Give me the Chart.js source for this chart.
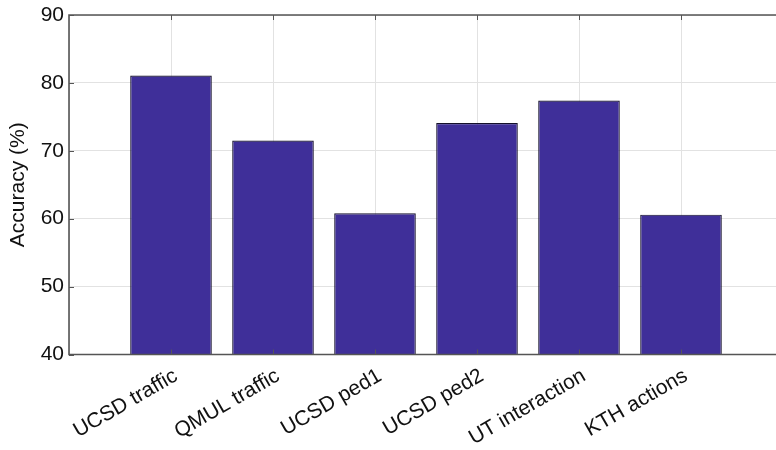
<!DOCTYPE html>
<html>
<head>
<meta charset="utf-8">
<script src="https://cdn.jsdelivr.net/npm/chart.js@4/dist/chart.umd.min.js"></script>
<style>
  html, body { margin: 0; padding: 0; background: #fff; }
  #wrap { width: 776px; height: 450px; overflow: hidden; position: relative; }
  canvas { display: block; }
</style>
</head>
<body>
<div id="wrap"><canvas id="c" width="800" height="450"></canvas></div>
<script>
// Recognition accuracy per dataset
const categories = ['UCSD traffic', 'QMUL traffic', 'UCSD ped1', 'UCSD ped2', 'UT interaction', 'KTH actions'];
const accuracy = [81.1, 71.5, 60.8, 74.1, 77.4, 60.6];
const yTicks = [40, 50, 60, 70, 80, 90];

// The x axis runs from 0 to 7 with the datasets at 1..6 (empty slots at both ends)
const labels = [''].concat(categories, ['']);
const values = [null].concat(accuracy, [null]);

const AXIS = '#555555';
const FONT = '"Liberation Sans", Arial, Helvetica, sans-serif';

// Box around the axes plus inward-pointing tick marks, drawn over the bars
const boxTicks = {
  id: 'boxTicks',
  afterDatasetsDraw(chart) {
    const { ctx, chartArea: a, scales: { x, y } } = chart;
    const len = 5;
    ctx.save();
    ctx.strokeStyle = AXIS;
    ctx.lineWidth = 1.6;
    ctx.beginPath();
    ctx.rect(a.left, a.top, a.right - a.left, a.bottom - a.top);
    ctx.stroke();
    ctx.lineWidth = 1;
    ctx.beginPath();
    for (let i = 1; i <= categories.length; i++) {
      const px = Math.round(x.getPixelForValue(i)) + 0.5;
      ctx.moveTo(px, a.bottom); ctx.lineTo(px, a.bottom - len);
      ctx.moveTo(px, a.top); ctx.lineTo(px, a.top + len);
    }
    yTicks.forEach(v => {
      const py = Math.round(y.getPixelForValue(v)) + 0.5;
      ctx.moveTo(a.left, py); ctx.lineTo(a.left + len, py);
      ctx.moveTo(a.right, py); ctx.lineTo(a.right - len, py);
    });
    ctx.stroke();
    ctx.restore();
  }
};

new Chart(document.getElementById('c'), {
  type: 'bar',
  data: {
    labels: labels,
    datasets: [{
      data: values,
      backgroundColor: '#3f2f99',
      borderColor: '#15112b',
      borderWidth: 1.2,
      borderSkipped: false,
      barPercentage: 0.8,
      categoryPercentage: 1.0
    }]
  },
  options: {
    responsive: false,
    animation: false,
    layout: { padding: { left: 0, top: 15, right: 17, bottom: 0 } },
    plugins: { legend: { display: false }, tooltip: { enabled: false } },
    scales: {
      x: {
        offset: false,
        grid: { color: '#e2e2e2', lineWidth: 1, drawTicks: false, offset: false },
        border: { display: false },
        ticks: {
          autoSkip: false,
          maxRotation: 30,
          minRotation: 30,
          padding: 9,
          labelOffset: 5,
          color: '#111',
          font: { family: FONT, size: 21 }
        },
        afterFit(s) { s.height = 95.5; s.paddingLeft = 0; s.paddingRight = 0; }
      },
      y: {
        min: 40,
        max: 90,
        afterBuildTicks(s) { s.ticks = yTicks.map(v => ({ value: v })); },
        grid: { color: '#e2e2e2', lineWidth: 1, drawTicks: false },
        border: { display: false },
        ticks: {
          padding: 5,
          color: '#111',
          font: { family: FONT, size: 21 }
        },
        title: {
          display: true,
          text: 'Accuracy (%)',
          color: '#111',
          padding: { top: 6, bottom: 0 },
          font: { family: FONT, size: 21 }
        },
        afterFit(s) { s.width = 69; s.paddingTop = 0; s.paddingBottom = 0; }
      }
    }
  },
  plugins: [boxTicks]
});
</script>
</body>
</html>
